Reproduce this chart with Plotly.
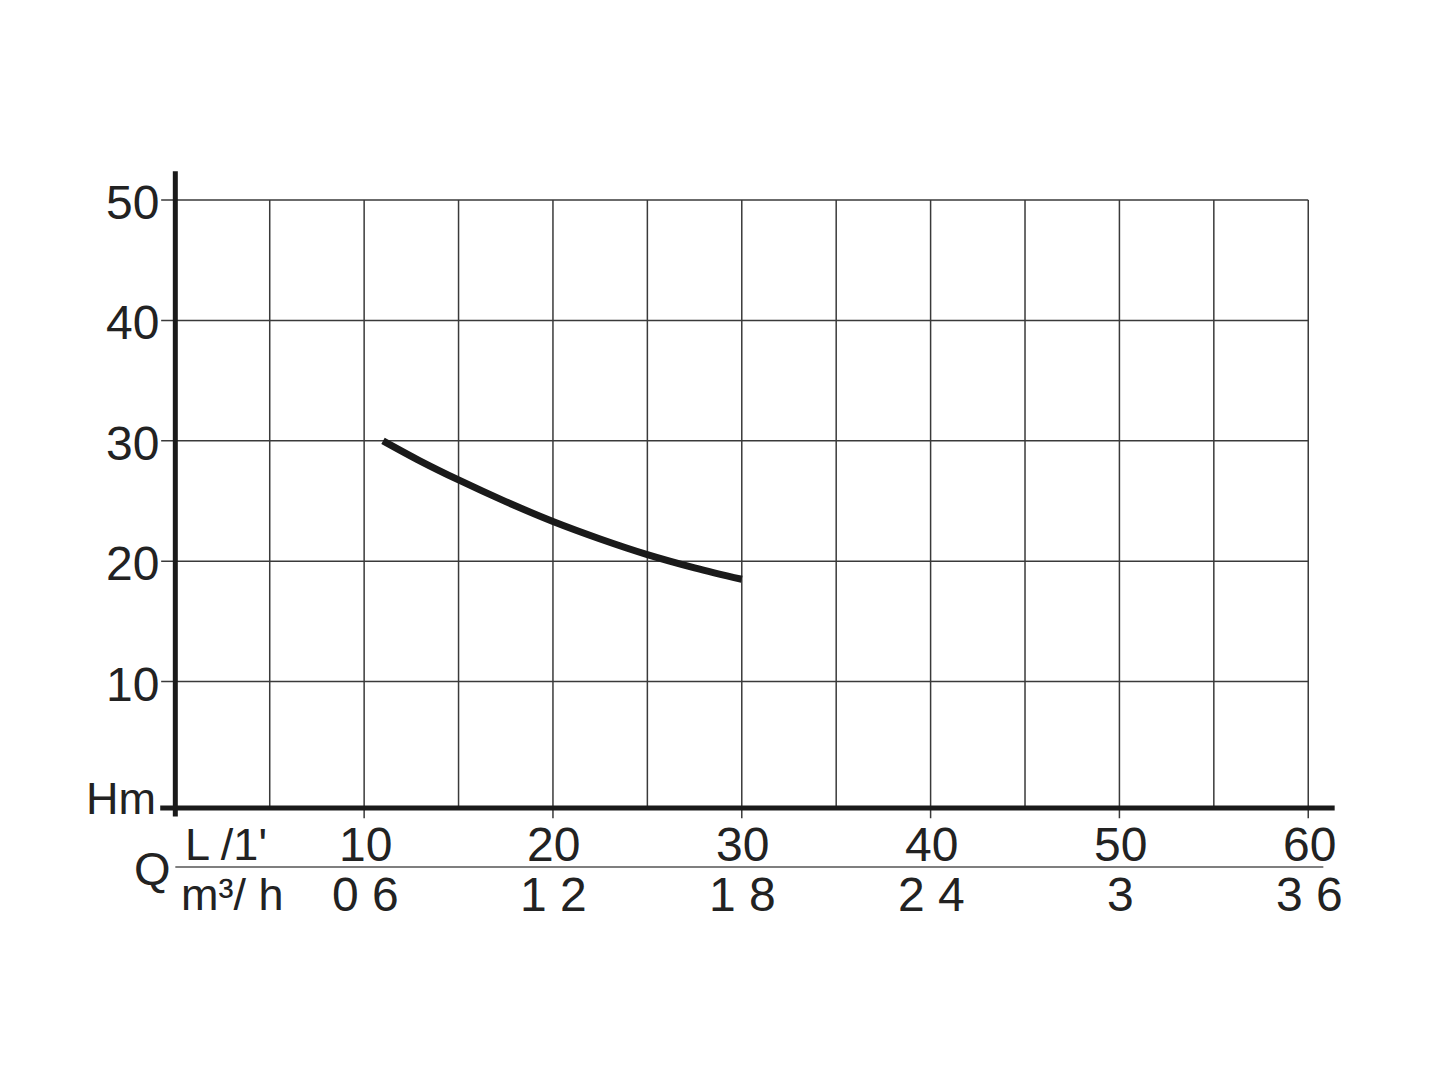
import plotly.graph_objects as go

# ---- data ----
flow_lpm = [11, 13, 15, 17.5, 20, 22.5, 25, 27.5, 30]
head_m = [30, 28.3, 26.75, 24.95, 23.3, 21.85, 20.55, 19.45, 18.5]

x_tick_vals = [10, 20, 30, 40, 50, 60]
x_tick_labels = ["10", "20", "30", "40", "50", "60"]
m3h_labels = ["0 6", "1 2", "1 8", "2 4", "3", "3 6"]
y_tick_vals = [10, 20, 30, 40, 50]
x_grid_vals = [5, 10, 15, 20, 25, 30, 35, 40, 45, 50, 55, 60]

FONT = "Liberation Sans, Arial, Helvetica, sans-serif"
TXT = "#222222"
GRID = "#3a3a3a"

X_RANGE = [-1.5, 62]
Y_RANGE = [-1.5, 53]


def py(v):
    """data y -> paper y (allows values outside range)."""
    return (v - Y_RANGE[0]) / (Y_RANGE[1] - Y_RANGE[0])


def px_(v):
    return (v - X_RANGE[0]) / (X_RANGE[1] - X_RANGE[0])


fig = go.Figure()
fig.add_trace(go.Scatter(
    x=flow_lpm, y=head_m, mode="lines",
    line=dict(color="#1a1a1a", width=7, shape="spline", smoothing=1.0),
    showlegend=False, hoverinfo="skip"))

shapes = []
for xv in x_grid_vals:
    y0 = -1.35 if xv in x_tick_vals else -0.5
    shapes.append(dict(type="line", xref="x", yref="y", x0=xv, x1=xv, y0=y0, y1=50,
                       line=dict(color=GRID, width=1.5), layer="below"))
for yv in y_tick_vals:
    shapes.append(dict(type="line", xref="x", yref="y", x0=-0.75, x1=60, y0=yv, y1=yv,
                       line=dict(color=GRID, width=1.5), layer="below"))
shapes.append(dict(type="line", xref="x", yref="y", x0=0, x1=0, y0=-1.2, y1=52.4,
                   line=dict(color="#1a1a1a", width=5)))
shapes.append(dict(type="line", xref="x", yref="y", x0=-0.8, x1=61.4, y0=-0.5, y1=-0.5,
                   line=dict(color="#1a1a1a", width=5)))
# separator line between unit rows
shapes.append(dict(type="line", xref="paper", yref="paper", x0=px_(0), x1=px_(60.8),
                   y0=py(-5.4), y1=py(-5.4), line=dict(color="#555555", width=1.5)))

ann = []
for yv in y_tick_vals:
    ann.append(dict(x=px_(0), y=py(yv), xref="paper", yref="paper", text=str(yv),
                    showarrow=False, xanchor="right", yanchor="middle", xshift=-14, yshift=-2.5,
                    font=dict(family=FONT, size=48, color=TXT)))
ann.append(dict(x=px_(0), y=py(0.1), xref="paper", yref="paper", text="Hm", showarrow=False,
                xanchor="right", yanchor="middle", xshift=-17, yshift=2,
                font=dict(family=FONT, size=45, color=TXT)))
for xv, lab in zip(x_tick_vals, x_tick_labels):
    ann.append(dict(x=px_(xv), y=py(-3.5), xref="paper", yref="paper", text=lab,
                    showarrow=False, xanchor="center", yanchor="middle", xshift=1,
                    font=dict(family=FONT, size=48, color=TXT)))
for xv, lab in zip(x_tick_vals, m3h_labels):
    ann.append(dict(x=px_(xv), y=py(-7.7), xref="paper", yref="paper", text=lab,
                    showarrow=False, xanchor="center", yanchor="middle", xshift=1,
                    font=dict(family=FONT, size=48, color=TXT)))
ann.append(dict(x=px_(0.4), y=py(-3.5), xref="paper", yref="paper", text="L /1'",
                showarrow=False, xanchor="left", yanchor="middle",
                font=dict(family=FONT, size=45, color=TXT)))
ann.append(dict(x=px_(0.2), y=py(-7.7), xref="paper", yref="paper",
                text="m³/ h", showarrow=False, xanchor="left", yanchor="middle",
                font=dict(family=FONT, size=45, color=TXT)))
ann.append(dict(x=px_(0), y=py(-5.5), xref="paper", yref="paper", text="Q", showarrow=False,
                xanchor="right", yanchor="middle", xshift=-2,
                font=dict(family=FONT, size=47, color=TXT)))

fig.update_layout(
    width=1445, height=1084,
    margin=dict(l=138.5, r=107, t=156, b=272.3),
    paper_bgcolor="white", plot_bgcolor="white",
    xaxis=dict(range=X_RANGE, showgrid=False, zeroline=False, showticklabels=False,
               showline=False, ticks=""),
    yaxis=dict(range=Y_RANGE, showgrid=False, zeroline=False, showticklabels=False,
               showline=False, ticks=""),
    shapes=shapes, annotations=ann,
)

fig.write_html("out.html")
